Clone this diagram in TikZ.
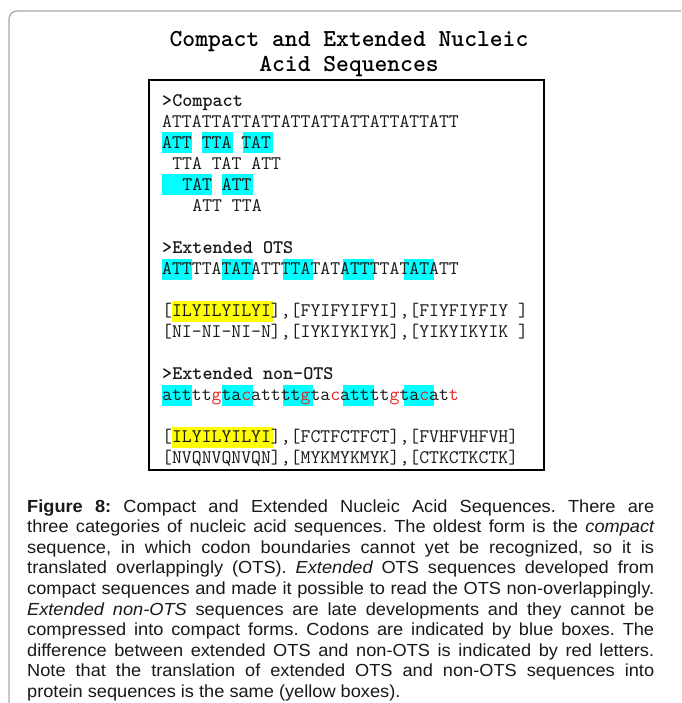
\documentclass[tikz,border=0pt]{standalone}
\usepackage{fontspec}
\setsansfont{Liberation Sans}
\newfontfamily\capfont{Liberation Sans}[FakeStretch=1.04]
\definecolor{codon}{RGB}{0,255,255}
\definecolor{protein}{RGB}{255,255,0}
\definecolor{seqred}{RGB}{232,36,36}
\definecolor{framegray}{RGB}{170,170,170}
\definecolor{captext}{RGB}{25,25,25}

% row baselines and character grid of the sequence panel
\newcommand\rowbase[1]{106.5+21*#1}
\newcommand\chw{10.08}
\newcommand\codonhl[3]{\fill[codon] ({162+#2*\chw},{\rowbase{#1}-16}) rectangle ({162+(#3+1)*\chw},{\rowbase{#1}+5});}
\newcommand\proteinhl[3]{\fill[protein] ({162+#2*\chw},{\rowbase{#1}-16}) rectangle ({162+(#3+1)*\chw},{\rowbase{#1}+5});}
\newcommand\rd[1]{\textcolor{seqred}{#1}}

\tikzset{
  titletext/.style={font=\ttfamily\bfseries\fontsize{24.4}{28}\selectfont, inner sep=0pt, anchor=base},
  seqtext/.style={font=\ttfamily\fontsize{19.2}{21}\selectfont\addfontfeature{FakeBold=0.6}, inner sep=0pt, anchor=base west, text=black!90},
  headtext/.style={seqtext, font=\ttfamily\bfseries\fontsize{19.2}{21}\selectfont},
  captext/.style={font=\capfont\frenchspacing\fontsize{17.5}{20.6}\selectfont, inner sep=0pt, anchor=base west, text=captext},
}

\begin{document}
\begin{tikzpicture}[x=1pt,y=-1pt]
\useasboundingbox (0,0) rectangle (681,703);
\fill[white] (0,0) rectangle (681,703);

% outer frame, running off the right and bottom edges
\draw[framegray, line width=1.3pt, rounded corners=8pt] (9,703) -- (9,11) -- (681,11);

% title
\node[titletext] (title1) at (349,47) {Compact and Extended Nucleic};
\node[titletext] (title2) at (349,72) {Acid Sequences};

% codon and protein highlights
\codonhl{2}{0}{2} \codonhl{2}{4}{6} \codonhl{2}{8}{10}
\codonhl{4}{0}{4} \codonhl{4}{6}{8}
\foreach \r in {8,14}{
  \codonhl{\r}{0}{2} \codonhl{\r}{6}{8} \codonhl{\r}{12}{14} \codonhl{\r}{18}{20} \codonhl{\r}{24}{26}
}
\proteinhl{10}{1}{10}
\proteinhl{16}{1}{10}

% panel frame
\draw[black, line width=1.7pt] (149,80) rectangle (544,470);

% compact sequence
\node[headtext] (h1) at (162,{\rowbase{0}}) {>Compact};
\node[seqtext] (c0) at (162,{\rowbase{1}}) {ATTATTATTATTATTATTATTATTATTATT};
\node[seqtext] (c1) at (162,{\rowbase{2}}) {ATT TTA TAT};
\node[seqtext] (c2) at ({162+1*\chw},{\rowbase{3}}) {TTA TAT ATT};
\node[seqtext] (c3) at ({162+2*\chw},{\rowbase{4}}) {TAT ATT};
\node[seqtext] (c4) at ({162+3*\chw},{\rowbase{5}}) {ATT TTA};

% extended OTS sequence
\node[headtext] (h2) at (162,{\rowbase{7}}) {>Extended OTS};
\node[seqtext] (e0) at (162,{\rowbase{8}}) {ATTTTATATATTTTATATATTTTATATATT};
\node[seqtext] (e1) at (162,{\rowbase{10}}) {[ILYILYILYI],[FYIFYIFYI],[FIYFIYFIY ]};
\node[seqtext] (e2) at (162,{\rowbase{11}}) {[NI-NI-NI-N],[IYKIYKIYK],[YIKYIKYIK ]};

% extended non-OTS sequence
\node[headtext] (h3) at (162,{\rowbase{13}}) {>Extended non-OTS};
\node[seqtext] (n0) at (162,{\rowbase{14}}) {atttt\rd{g}ta\rd{c}atttt\rd{g}ta\rd{c}atttt\rd{g}ta\rd{c}at\rd{t}};
\node[seqtext] (n1) at (162,{\rowbase{16}}) {[ILYILYILYI],[FCTFCTFCT],[FVHFVHFVH]};
\node[seqtext] (n2) at (162,{\rowbase{17}}) {[NVQNVQNVQN],[MYKMYKMYK],[CTKCTKCTK]};

% caption, one justified line per node
\node[captext] (cap1) at (27,512.0) {\makebox[627pt][s]{\bfseries Figure 8: \mdseries Compact and Extended Nucleic Acid Sequences. There are}};
\node[captext] (cap2) at (27,532.6) {\makebox[627pt][s]{three categories of nucleic acid sequences. The oldest form is the \itshape compact}};
\node[captext] (cap3) at (27,553.2) {\makebox[627pt][s]{sequence, in which codon boundaries cannot yet be recognized, so it is}};
\node[captext] (cap4) at (27,573.8) {\makebox[627pt][s]{translated overlappingly (OTS). \itshape Extended \upshape OTS sequences developed from}};
\node[captext] (cap5) at (27,594.4) {\makebox[627pt][s]{compact sequences and made it possible to read the OTS non-overlappingly.}};
\node[captext] (cap6) at (27,615.0) {\makebox[627pt][s]{\itshape Extended non-OTS \upshape sequences are late developments and they cannot be}};
\node[captext] (cap7) at (27,635.6) {\makebox[627pt][s]{compressed into compact forms. Codons are indicated by blue boxes. The}};
\node[captext] (cap8) at (27,656.2) {\makebox[627pt][s]{difference between extended OTS and non-OTS is indicated by red letters.}};
\node[captext] (cap9) at (27,676.8) {\makebox[627pt][s]{Note that the translation of extended OTS and non-OTS sequences into}};
\node[captext] (cap10) at (27,697.4) {protein sequences is the same (yellow boxes).};
\end{tikzpicture}
\end{document}
